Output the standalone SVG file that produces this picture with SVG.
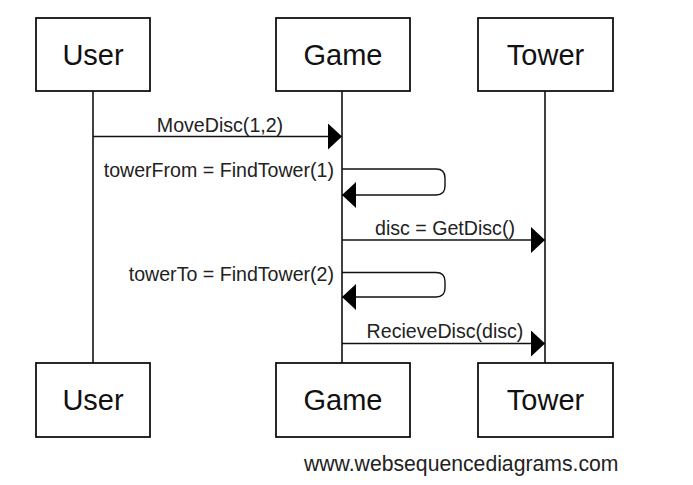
<svg xmlns="http://www.w3.org/2000/svg" width="693" height="485" viewBox="0 0 693 485">
<style>
  .box { fill: #fff; stroke: #111; stroke-width: 1.8; }
  .life { stroke: #111; stroke-width: 1.6; fill: none; }
  .msg { stroke: #111; stroke-width: 1.4; fill: none; marker-end: url(#ah); }
  .lbl { font-family: "Liberation Sans", Arial, sans-serif; font-size: 29px; fill: #111; text-anchor: middle; }
  .mt { font-family: "Liberation Sans", Arial, sans-serif; font-size: 19.6px; fill: #222; }
  .ft { font-family: "Liberation Sans", Arial, sans-serif; font-size: 21.2px; fill: #222; }
</style>
<defs>
  <marker id="ah" markerUnits="userSpaceOnUse" markerWidth="15" markerHeight="27" refX="14" refY="13" orient="auto" viewBox="0 0 15 27">
    <path d="M0,0 L14,13 L0,26 Z" fill="#000"/>
  </marker>
</defs>
<rect width="693" height="485" fill="#fff"/>
<g id="lifelines">
  <line class="life" x1="93" y1="91" x2="93" y2="363"/>
  <line class="life" x1="342" y1="91" x2="342" y2="363"/>
  <line class="life" x1="545" y1="91" x2="545" y2="363"/>
</g>
<g id="node-user-top"><rect class="box" x="36" y="18" width="114" height="73"/><text class="lbl" x="93" y="65">User</text></g>
<g id="node-game-top"><rect class="box" x="276" y="18" width="134" height="73"/><text class="lbl" x="343" y="65">Game</text></g>
<g id="node-tower-top"><rect class="box" x="478" y="18" width="135" height="73"/><text class="lbl" x="545.5" y="65">Tower</text></g>
<g id="node-user-bottom"><rect class="box" x="36" y="363" width="114" height="74"/><text class="lbl" x="93" y="410">User</text></g>
<g id="node-game-bottom"><rect class="box" x="276" y="363" width="134" height="74"/><text class="lbl" x="343" y="410">Game</text></g>
<g id="node-tower-bottom"><rect class="box" x="478" y="363" width="135" height="74"/><text class="lbl" x="545.5" y="410">Tower</text></g>
<g id="connectors">
  <path class="msg" d="M93,136.5 H342"/>
  <text class="mt" x="220" y="132" text-anchor="middle">MoveDisc(1,2)</text>
  <path class="msg" d="M342,169 H436 Q445,169 445,178 V186 Q445,195 436,195 H342"/>
  <text class="mt" x="334" y="177" text-anchor="end">towerFrom = FindTower(1)</text>
  <path class="msg" d="M342,240 H545"/>
  <text class="mt" x="445" y="235" text-anchor="middle">disc = GetDisc()</text>
  <path class="msg" d="M342,272.5 H436 Q445,272.5 445,281.5 V288 Q445,297 436,297 H342"/>
  <text class="mt" x="334" y="281" text-anchor="end">towerTo = FindTower(2)</text>
  <path class="msg" d="M342,343.5 H545"/>
  <text class="mt" x="445" y="338" text-anchor="middle">RecieveDisc(disc)</text>
</g>
<text class="ft" x="304" y="471">www.websequencediagrams.com</text>
</svg>
